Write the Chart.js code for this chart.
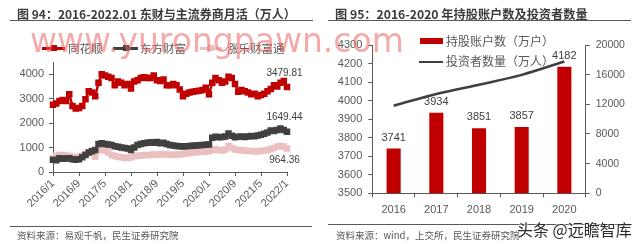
<!DOCTYPE html>
<html><head><meta charset="utf-8">
<script src="https://cdn.jsdelivr.net/npm/chart.js@4.4.0/dist/chart.umd.min.js"></script>
<style>
html,body{margin:0;padding:0;background:#fff;}
#wrap{position:relative;width:640px;height:244px;overflow:hidden;font-family:"Noto Sans CJK SC",sans-serif;}
.abs{position:absolute;white-space:nowrap;}
canvas{position:absolute;top:0;}
.title{font-weight:700;line-height:14px;color:#3a3a3a;}
.rule{position:absolute;height:0;border-top:1.3px solid #595959;}
.src{font-size:9.5px;line-height:11px;color:#595959;}
.lg{font-size:11.5px;line-height:14px;color:#595959;}
</style></head><body><div id="wrap">
<canvas id="cL" width="320" height="244" style="left:0"></canvas>
<canvas id="cR" width="320" height="244" style="left:320px"></canvas>

<div class="abs title" style="left:17px;top:7px;font-size:12px;">图 94：2016-2022.01 东财与主流券商月活（万人）</div>
<div class="rule" style="left:10px;top:20px;width:303px;"></div>
<div class="abs title" style="left:335px;top:7px;font-size:12.2px;">图 95：2016-2020 年持股账户数及投资者数量</div>
<div class="rule" style="left:328px;top:20px;width:303px;"></div>

<!-- left legend -->
<div class="abs" style="left:42px;top:47px;width:23px;height:2.5px;background:#C00000"></div>
<div class="abs" style="left:50.5px;top:45px;width:6px;height:6px;background:#C00000"></div>
<div class="abs lg" style="left:68px;top:41px;">同花顺</div>
<div class="abs" style="left:113px;top:47px;width:25px;height:2.5px;background:#404040"></div>
<div class="abs" style="left:122.5px;top:45px;width:6px;height:6px;background:#404040"></div>
<div class="abs lg" style="left:140px;top:41px;">东方财富</div>
<div class="abs" style="left:200px;top:47px;width:22px;height:2.5px;background:#EBC0C0"></div>
<div class="abs" style="left:208px;top:45px;width:6px;height:6px;background:#EBC0C0"></div>
<div class="abs lg" style="left:227px;top:41px;">涨乐财富通</div>

<!-- right legend -->
<div class="abs" style="left:420px;top:38px;width:23px;height:6px;background:#C00000"></div>
<div class="abs lg" style="left:446px;top:34px;font-size:12px;">持股账户数（万户）</div>
<div class="abs" style="left:419px;top:60.5px;width:24px;height:2.5px;background:#404040"></div>
<div class="abs lg" style="left:446px;top:54px;font-size:12px;">投资者数量（万人）</div>

<div class="rule" style="left:10px;top:226px;width:302px;"></div>
<div class="abs src" style="left:17px;top:230px;">资料来源：易观千帆，民生证券研究院</div>
<div class="rule" style="left:328px;top:224px;width:304px;"></div>
<div class="abs src" style="left:336px;top:230px;">资料来源：wind，上交所，民生证券研究院</div>

<div class="abs" style="left:30px;top:21px;font-family:'DejaVu Sans';font-size:33px;line-height:40px;color:rgba(236,100,100,0.55);">www.yurongpawn.com</div>
<div class="abs" style="left:517px;top:219px;font-size:16px;line-height:20px;color:#2a2a2a;text-shadow:0 0 2px #fff,0 0 2px #fff,0 0 2px #fff;">头条 @远瞻智库</div>
</div>
<script>
// ---------- Left chart data (万人) ----------
const months = [
'2016/1','2016/2','2016/3','2016/4','2016/5','2016/6','2016/7','2016/8','2016/9','2016/10','2016/11','2016/12',
'2017/1','2017/2','2017/3','2017/4','2017/5','2017/6','2017/7','2017/8','2017/9','2017/10','2017/11','2017/12',
'2018/1','2018/2','2018/3','2018/4','2018/5','2018/6','2018/7','2018/8','2018/9','2018/10','2018/11','2018/12',
'2019/1','2019/2','2019/3','2019/4','2019/5','2019/6','2019/7','2019/8','2019/9','2019/10','2019/11','2019/12',
'2020/1','2020/2','2020/3','2020/4','2020/5','2020/6','2020/7','2020/8','2020/9','2020/10','2020/11','2020/12',
'2021/1','2021/2','2021/3','2021/4','2021/5','2021/6','2021/7','2021/8','2021/9','2021/10','2021/11','2021/12',
'2022/1'];
const shownTicks = ['2016/1','2016/9','2017/5','2018/1','2018/9','2019/5','2020/1','2020/9','2021/5','2022/1'];
const tonghuashun = [
2750,2800,2900,2950,2900,3180,2700,2600,2620,2700,2980,3300,
3250,3100,3650,4000,3950,3900,3850,3550,3700,3650,3550,3600,
3420,3700,3750,3850,3880,3850,3850,3950,3750,3720,3780,3550,
3550,3600,3550,3380,3100,3200,3250,3280,3300,3320,3350,3450,
3180,3650,3850,3750,3650,3700,3900,3850,3600,3280,3350,3300,
3250,3180,3200,3100,3150,3200,3300,3400,3550,3500,3650,3720,
3479.81];
const dongfangcaifu = [
500,480,560,540,550,560,520,500,520,600,700,800,
850,900,1150,1180,1150,1130,1100,1050,1030,1000,980,960,
900,1000,1100,1150,1180,1200,1220,1200,1230,1180,1200,1150,
1100,1080,1060,1050,1040,1050,1060,1070,1080,1090,1100,1110,
1120,1400,1440,1420,1430,1450,1580,1480,1420,1440,1450,1430,
1450,1470,1460,1490,1520,1560,1620,1700,1680,1720,1780,1720,
1649.44];
const zhangle = [
550,650,700,700,680,650,620,600,620,680,750,820,
880,620,880,920,880,800,700,650,620,600,580,570,
600,640,660,680,690,700,700,720,710,720,740,720,
700,710,720,730,740,760,780,800,810,820,830,840,
850,900,930,900,880,920,1060,980,920,900,890,870,
860,860,850,840,860,880,900,940,980,1040,1060,1040,
964.36];
const leftSeriesNames = ['同花顺','东方财富','涨乐财富通'];

// ---------- Right chart data ----------
const years = ['2016','2017','2018','2019','2020'];
const accounts = [3741,3934,3851,3857,4182];      // 持股账户数（万户）
const investors = [11811,13398,14650,15975,17777]; // 投资者数量（万人）

const tickFont = {family:'Liberation Sans', size:11};
const axisCol = '#595959';
const plain = v => String(v);

const endLabels = {
  id:'endLabels',
  afterDatasetsDraw(chart){
    const ctx = chart.ctx; ctx.save();
    ctx.font = '10px "Liberation Sans"'; ctx.fillStyle = '#404040';
    ctx.textAlign = 'center'; ctx.textBaseline = 'middle';
    const offs = [-14,-14,12];
    chart.data.datasets.forEach((ds,i)=>{
      const meta = chart.getDatasetMeta(i);
      const pt = meta.data[meta.data.length-1];
      ctx.fillText(ds.data[ds.data.length-1].toFixed(2), pt.x-2.5, pt.y+offs[i]);
    });
    ctx.restore();
  }
};

function lineDs(label, data, col){
  return {label, data, borderColor:col, backgroundColor:col, pointBackgroundColor:col, pointBorderColor:col,
          borderWidth:2.5, pointStyle:'rect', pointRadius:4.6, pointBorderWidth:0, tension:0};
}

new Chart(document.getElementById('cL'), {
  type:'line',
  data:{labels:months, datasets:[
    lineDs(leftSeriesNames[0], tonghuashun, '#C00000'),
    lineDs(leftSeriesNames[1], dongfangcaifu, '#404040'),
    lineDs(leftSeriesNames[2], zhangle, '#EBC0C0')
  ]},
  options:{
    responsive:false, animation:false, devicePixelRatio:1,
    layout:{padding:{top:62,right:33,left:0,bottom:0}},
    plugins:{legend:{display:false}, tooltip:{enabled:false}},
    scales:{
      x:{offset:false,
         grid:{drawOnChartArea:false, tickLength:4, color:axisCol},
         border:{color:axisCol},
         ticks:{autoSkip:false, maxRotation:45, minRotation:45, padding:1, color:axisCol, font:tickFont,
           callback:function(v){const l=this.getLabelForValue(v); return shownTicks.includes(l)?l:null;}},
         afterFit(s){s.height=72;}},
      y:{min:0, max:4500,
         grid:{drawOnChartArea:false, tickLength:4, color:axisCol},
         border:{color:axisCol},
         ticks:{stepSize:500, padding:5, color:axisCol, font:tickFont, callback:plain},
         afterFit(s){s.width=53;}}
    }
  },
  plugins:[endLabels]
});

const barLabels = {
  id:'barLabels',
  afterDatasetsDraw(chart){
    const ctx = chart.ctx; ctx.save();
    ctx.font = '11px "Liberation Sans"'; ctx.fillStyle = '#404040';
    ctx.textAlign = 'center'; ctx.textBaseline = 'middle';
    const meta = chart.getDatasetMeta(1);
    meta.data.forEach((b,i)=>{ ctx.fillText(String(accounts[i]), b.x, b.y-11); });
    ctx.restore();
  }
};

new Chart(document.getElementById('cR'), {
  type:'bar',
  data:{labels:years, datasets:[
    {type:'line', label:'投资者数量（万人）', data:investors, yAxisID:'y2', borderColor:'#404040', borderWidth:2.5, pointRadius:0, tension:0.4, order:0},
    {type:'bar', label:'持股账户数（万户）', data:accounts, yAxisID:'y', backgroundColor:'#C00000', categoryPercentage:1, barPercentage:0.33, order:1}
  ]},
  options:{
    responsive:false, animation:false, devicePixelRatio:1,
    layout:{padding:{top:45,right:0,left:0,bottom:0}},
    plugins:{legend:{display:false}, tooltip:{enabled:false}},
    scales:{
      x:{grid:{drawOnChartArea:false, tickLength:4, color:axisCol, offset:true},
         border:{color:axisCol},
         ticks:{padding:6, color:axisCol, font:tickFont, maxRotation:0},
         afterFit(s){s.height=50.7;}},
      y:{position:'left', min:3500, max:4300,
         grid:{drawOnChartArea:false, tickLength:4, color:axisCol},
         border:{color:axisCol},
         ticks:{stepSize:100, padding:6, color:axisCol, font:tickFont, callback:plain},
         afterFit(s){s.width=52.3;}},
      y2:{position:'right', min:0, max:20000,
         grid:{drawOnChartArea:false, tickLength:4, color:axisCol},
         border:{color:axisCol},
         ticks:{stepSize:4000, padding:6, color:axisCol, font:{family:'Liberation Sans', size:10.5}, callback:plain},
         afterFit(s){s.width=54.3;}}
    }
  },
  plugins:[barLabels]
});
</script>
</body></html>
